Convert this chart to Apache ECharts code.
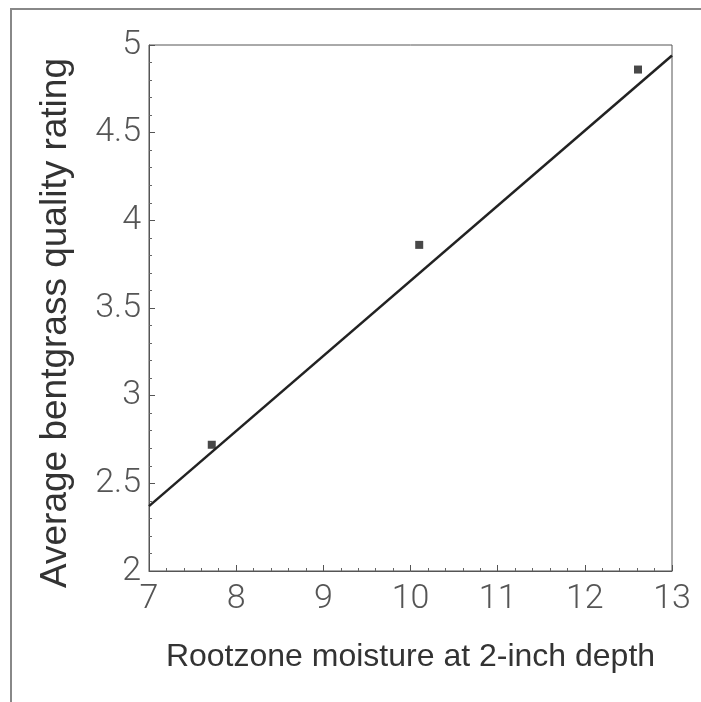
<!DOCTYPE html>
<html>
<head>
<meta charset="utf-8">
<script src="https://cdn.jsdelivr.net/npm/echarts@6/dist/echarts.min.js"></script>
<style>
html,body{margin:0;padding:0;background:#fff;}
#chart{width:701px;height:702px;}
</style>
</head>
<body>
<div id="chart"></div>
<script>
// Data
const moisture = [7.72, 10.10, 12.61];
const quality = [2.72, 3.86, 4.86];
const fitX = [7, 13];
const fitY = [2.37, 4.94];
const xTicks = [7, 8, 9, 10, 11, 12, 13];
const yTicks = [2, 2.5, 3, 3.5, 4, 4.5, 5];
const xTitle = 'Rootzone moisture at 2-inch depth';
const yTitle = 'Average bentgrass quality rating';

const chart = echarts.init(document.getElementById('chart'), null, {renderer: 'canvas'});
const FONT = "'Liberation Sans', Arial, Helvetica, sans-serif";
const TICKFONT = "Roboto, 'Liberation Sans', Arial, sans-serif";

const option = {
  backgroundColor: '#ffffff',
  animation: false,
  grid: {
    left: 149, right: 29, top: 45, bottom: 131,
    show: true, borderColor: '#555', borderWidth: 1, backgroundColor: 'transparent'
  },
  graphic: [
    {type: 'polyline', shape: {points: [[11, 702], [11, 9], [701, 9]]},
     style: {stroke: '#888', lineWidth: 2, fill: null}, silent: true},
    {type: 'text', x: 56, y: 323, rotation: Math.PI / 2,
     style: {text: yTitle, fontFamily: FONT, fontSize: 37, fill: '#333',
       align: 'center', verticalAlign: 'middle'}, silent: true}
  ],
  xAxis: {
    type: 'value', min: xTicks[0], max: xTicks[xTicks.length - 1], interval: 1,
    name: xTitle, nameLocation: 'middle', nameGap: 70,
    nameTextStyle: {fontFamily: FONT, fontSize: 32, color: '#333'},
    axisLine: {show: true, lineStyle: {color: '#555', width: 1}},
    axisTick: {show: true, inside: true, length: 6, lineStyle: {color: '#555'}},
    minorTick: {show: true, splitNumber: 5, length: 3, lineStyle: {color: '#666'}},
    splitLine: {show: false},
    axisLabel: {fontFamily: TICKFONT, fontWeight: 300, fontSize: 34, color: '#555', margin: 11,
      formatter: v => xTicks.includes(v) ? String(v) : ''}
  },
  yAxis: {
    type: 'value', min: yTicks[0], max: yTicks[yTicks.length - 1], interval: 0.5,
    axisLine: {show: true, lineStyle: {color: '#555', width: 1}},
    axisTick: {show: true, inside: true, length: 6, lineStyle: {color: '#555'}},
    minorTick: {show: true, splitNumber: 5, length: 3, lineStyle: {color: '#666'}},
    splitLine: {show: false},
    axisLabel: {fontFamily: TICKFONT, fontWeight: 300, fontSize: 34, color: '#555', margin: 8,
      formatter: v => yTicks.includes(v) ? String(v) : ''}
  },
  series: [
    {
      type: 'line',
      data: fitX.map((x, i) => [x, fitY[i]]),
      showSymbol: false, symbol: 'none',
      lineStyle: {color: '#222', width: 2.5},
      z: 2
    },
    {
      type: 'scatter',
      data: moisture.map((x, i) => [x, quality[i]]),
      symbol: 'rect', symbolSize: 8,
      itemStyle: {color: '#1a1a1a'},
      z: 3
    }
  ]
};
chart.setOption(option);
</script>
</body>
</html>
